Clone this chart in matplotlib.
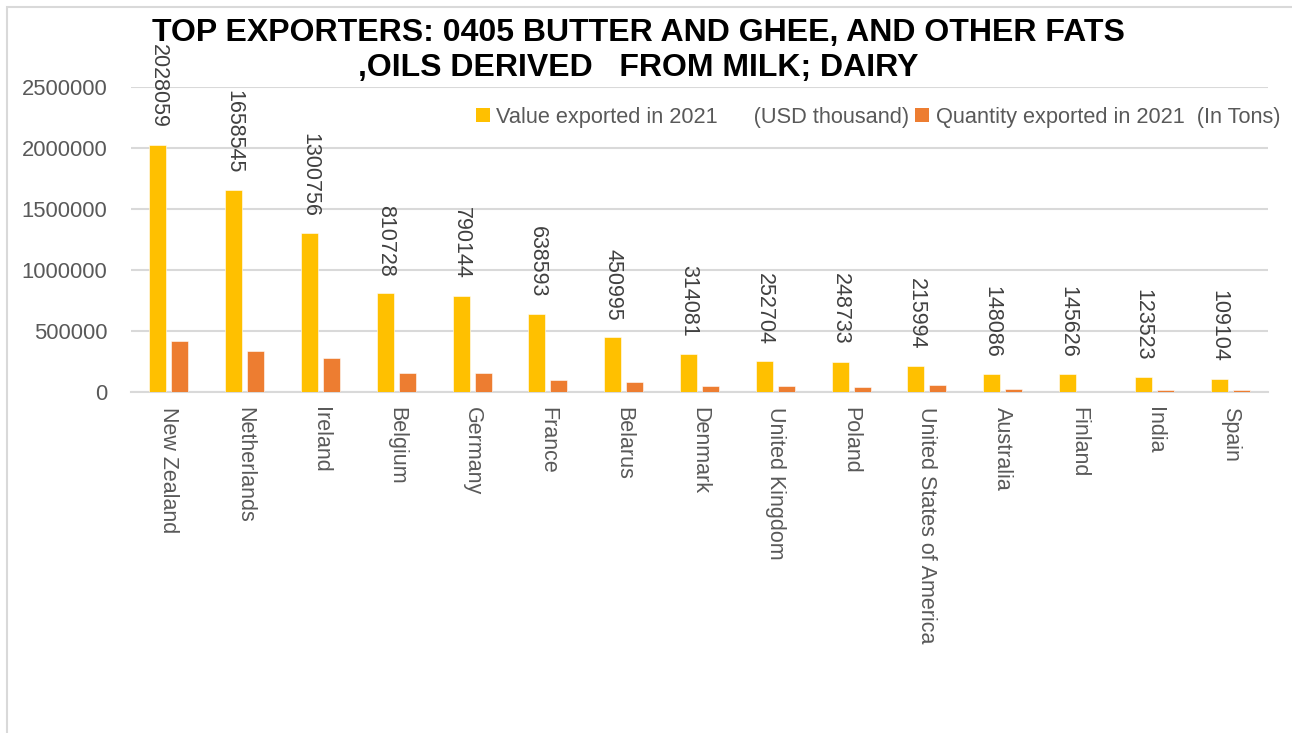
import matplotlib
matplotlib.use("Agg")
import matplotlib.pyplot as plt
from matplotlib import font_manager
from matplotlib.patches import Rectangle, Patch
import numpy as np

# Data
countries = ["New Zealand", "Netherlands", "Ireland", "Belgium", "Germany",
             "France", "Belarus", "Denmark", "United Kingdom", "Poland",
             "United States of America", "Australia", "Finland", "India", "Spain"]
value_usd_thousand = [2028059, 1658545, 1300756, 810728, 790144, 638593, 450995,
                      314081, 252704, 248733, 215994, 148086, 145626, 123523, 109104]
quantity_tons = [418000, 339000, 279000, 158000, 153000, 96000, 85000,
                 47000, 47000, 42000, 55000, 23000, np.nan, 17000, 17000]
yticks = [0, 500000, 1000000, 1500000, 2000000, 2500000]

series_labels = ["Value exported in 2021      (USD thousand)",
                 "Quantity exported in 2021  (In Tons)"]
title_lines = ["TOP EXPORTERS: 0405 BUTTER AND GHEE, AND OTHER FATS",
               ",OILS DERIVED   FROM MILK; DAIRY"]

YELLOW = "#FFC000"
ORANGE = "#ED7D31"
GRID = "#D9D9D9"
TEXT = "#595959"

available = {f.name for f in font_manager.fontManager.ttflist}
narrow = "Liberation Sans Narrow" if "Liberation Sans Narrow" in available else "Liberation Sans"

W, H = 1292, 733
fig = plt.figure(figsize=(W / 100, H / 100), dpi=100)
fig.patch.set_facecolor("white")

# outer chart frame (only top and left edges fall inside the canvas)
fig.patches.append(Rectangle((7 / W, -0.5), 2.0, 1.5 - 7 / H, transform=fig.transFigure,
                             fill=False, edgecolor=GRID, linewidth=1.5))

ax = fig.add_axes([131 / W, 1 - 392 / H, (1268 - 131) / W, (392 - 87.3) / H])

x = np.arange(len(countries))
bw = 0.225
off = 0.145
ax.bar(x - off, value_usd_thousand, bw, color=YELLOW, edgecolor="white", linewidth=0.4, zorder=3)
ax.bar(x + off, quantity_tons, bw, color=ORANGE, edgecolor="white", linewidth=0.4, zorder=3)

ax.set_xlim(-0.5, len(countries) - 0.5)
ax.set_ylim(0, 2500000)
ax.set_yticks(yticks)
ax.set_yticklabels([str(v) for v in yticks])
ax.yaxis.grid(True, color=GRID, linewidth=1.5, zorder=0)
ax.set_axisbelow(True)
for s in ["top", "right", "left"]:
    ax.spines[s].set_visible(False)
ax.spines["bottom"].set_color(GRID)
ax.spines["bottom"].set_linewidth(1.5)
ax.tick_params(axis="both", length=0, colors=TEXT)
ax.tick_params(axis="y", pad=17, labelsize=15.8)
ax.tick_params(axis="x", pad=11, labelsize=15.5)
ax.set_xticks(x)
ax.set_xticklabels(countries, rotation=270, va="top", ha="center")
for lbl in ax.get_xticklabels() + ax.get_yticklabels():
    lbl.set_fontfamily("Liberation Sans")
    lbl.set_color(TEXT)

# value labels above the value bars
for xi, v in zip(x, value_usd_thousand):
    ax.annotate(str(v), (xi - off, v), xytext=(0, 12), textcoords="offset points",
                rotation=270, ha="center", va="bottom", fontsize=15.5,
                family="Liberation Sans", color="#404040")

# legend
handles = [Patch(facecolor=YELLOW), Patch(facecolor=ORANGE)]
fig.legend(handles, series_labels, loc="center right", bbox_to_anchor=(1291 / W, 1 - 117 / H),
           ncol=2, frameon=False, handlelength=0.65, handleheight=0.65, handletextpad=0.3,
           columnspacing=0.25, borderpad=0, prop={"family": narrow, "size": 15.7},
           labelcolor=TEXT)

# title
fig.text(638 / W, 1 - 33 / H, title_lines[0], ha="center", va="center",
         fontsize=23, fontweight="bold", family=narrow, color="black")
fig.text(638 / W, 1 - 68 / H, title_lines[1], ha="center", va="center",
         fontsize=23, fontweight="bold", family=narrow, color="black")

fig.savefig("out.png", dpi=100, facecolor="white")
